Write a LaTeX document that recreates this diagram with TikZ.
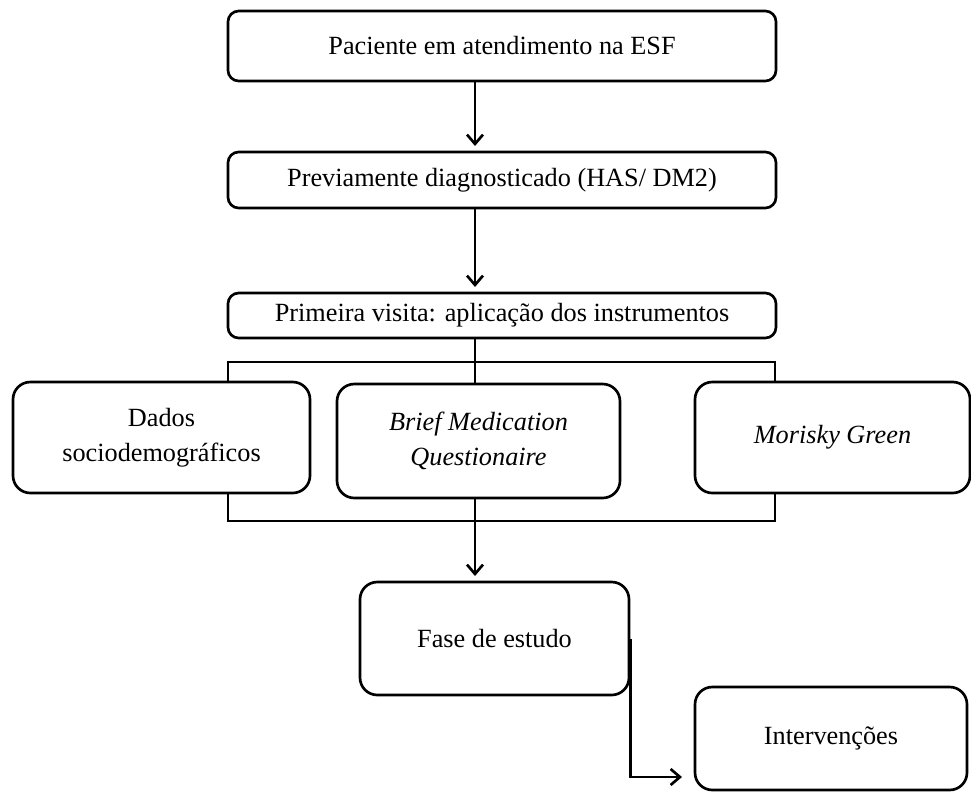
\documentclass[tikz,border=0pt]{standalone}
\usepackage{fontspec}
\setmainfont{Liberation Serif}
\usetikzlibrary{arrows.meta}

\begin{document}
\begin{tikzpicture}[x=0.75pt,y=-0.75pt,line width=2pt,>={Straight Barb[length=7pt,width=12pt]}]
	\tikzstyle{caixa}=[draw,fill=white,rounded corners=8pt,align=center,inner sep=2pt,font=\fontsize{19.7}{26}\selectfont]
	\tikzstyle{grande}=[caixa,rounded corners=13pt]
	\useasboundingbox (0,0) rectangle (971,793);
	\coordinate (spine) at (475,0);
	%% bracket behind the instruments
	\draw (228,362) rectangle (775,521);
	%% main column
	\node[caixa,minimum width=411pt,minimum height=52.5pt] (pac) at (502,46) {Paciente em atendimento na ESF};
	\node[caixa,minimum width=411pt,minimum height=42pt] (prev) at (502,180) {Previamente diagnosticado (HAS/ DM2)};
	\node[caixa,minimum width=411pt,minimum height=33.75pt] (prim) at (502,315.5) {Primeira visita: aplicação dos instrumentos};
	%% instruments
	\node[grande,minimum width=222.75pt,minimum height=83.25pt] (dados) at (161.5,437.5) {Dados\\sociodemográficos};
	\node[grande,minimum width=212.25pt,minimum height=85.5pt] (bmq) at (478.5,441) {\textit{Brief Medication}\\\textit{Questionaire}};
	\node[grande,minimum width=206.25pt,minimum height=83.25pt] (mor) at (832.5,437.5) {\textit{Morisky Green}};
	%% study phase
	\node[grande,minimum width=201.75pt,minimum height=84.75pt] (fase) at (494.5,638.5) {Fase de estudo};
	\node[grande,minimum width=204pt,minimum height=77.25pt] (interv) at (831,738.5) {Intervenções};
	\coordinate (tip) at (682,777);
	%% connectors
	\draw[->,shorten >=3.5pt] (pac.south -| spine) -- (prev.north -| spine);
	\draw[->,shorten >=3.5pt] (prev.south -| spine) -- (prim.north -| spine);
	\draw (prim.south -| spine) -- (bmq.north -| spine);
	\draw[->,shorten >=3.5pt] (bmq.south -| spine) -- (fase.north -| spine);
	\draw[->] (fase.east) |- (tip);
\end{tikzpicture}
\end{document}
